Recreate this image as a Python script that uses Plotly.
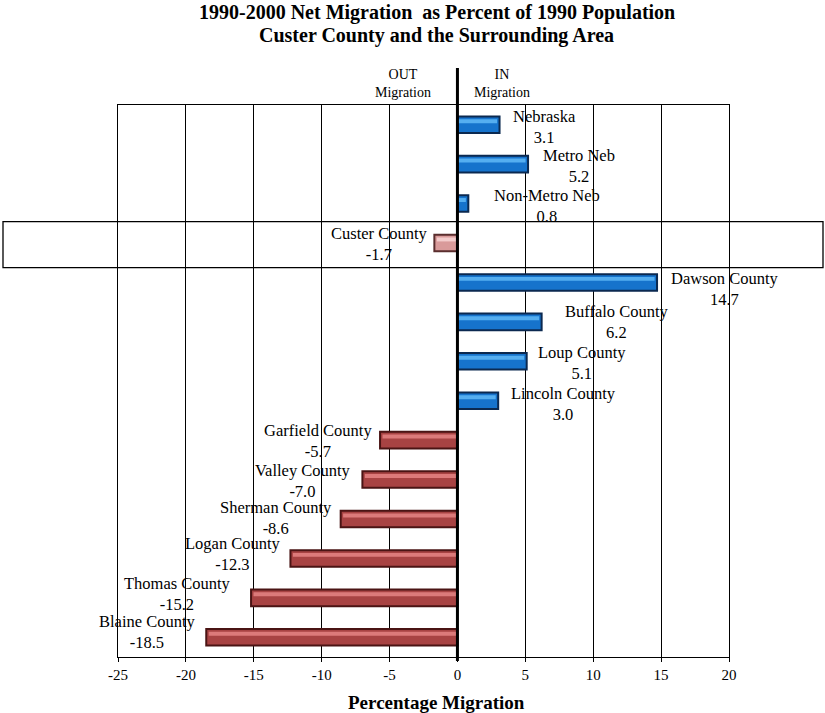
import plotly.graph_objects as go

# ---------------- data ----------------
regions = ["Nebraska", "Metro Neb", "Non-Metro Neb", "Custer County",
           "Dawson County", "Buffalo County", "Loup County", "Lincoln County",
           "Garfield County", "Valley County", "Sherman County", "Logan County",
           "Thomas County", "Blaine County"]
net_migration = [3.1, 5.2, 0.8, -1.7, 14.7, 6.2, 5.1, 3.0,
                 -5.7, -7.0, -8.6, -12.3, -15.2, -18.5]
highlight_region = "Custer County"
x_ticks = [-25, -20, -15, -10, -5, 0, 5, 10, 15, 20]
title_lines = ["1990-2000 Net Migration  as Percent of 1990 Population",
               "Custer County and the Surrounding Area"]
x_title = "Percentage Migration"

# ---------------- label nudges (pixels) ----------------
label_dx = [11, 13, 24, -4, 12, 21, 9, 11, -6, -9, -7, -7, -18, -8]
label_dy = [2, 2, 2, 1, 7, 0, 2, 3, 1, 1.5, -1, -4.5, -4, -5.5]

FONT = "Liberation Serif"

def colors_for(name, v):
    if name == highlight_region:
        return "#d99a9a", "#f3cccc", "#5a2e2e"
    if v >= 0:
        return "#1673cc", "#55aef0", "#0b2950"
    return "#a84343", "#dc7a7a", "#4a1414"

base_cols, hi_cols, line_cols = [], [], []
for n, v in zip(regions, net_migration):
    b, h, l = colors_for(n, v)
    base_cols.append(b)
    hi_cols.append(h)
    line_cols.append(l)

fig = go.Figure()
fig.add_trace(go.Bar(
    y=regions, x=net_migration, orientation="h",
    width=0.42, offset=-0.21,
    marker=dict(color=base_cols, line=dict(color=line_cols, width=2)),
    showlegend=False, hoverinfo="x+y",
))
# highlight stripe for a glossy look
hi_len = [v - (0.18 if v > 0 else -0.18) for v in net_migration]
fig.add_trace(go.Bar(
    y=regions, x=hi_len, orientation="h",
    width=0.1, offset=-0.14,
    marker=dict(color=hi_cols, line=dict(width=0)),
    showlegend=False, hoverinfo="skip",
))

annotations = []
for n, v, dx, dy in zip(regions, net_migration, label_dx, label_dy):
    annotations.append(dict(
        x=v, y=n, xref="x", yref="y",
        text=f"{n}<br>{v:.1f}", showarrow=False, align="center",
        xanchor="left" if v >= 0 else "right", yanchor="middle",
        xshift=dx, yshift=-dy,
        font=dict(family=FONT, size=16.5, color="black"),
    ))

# plot area: x 118..729, y 105..657 (height 552)
def py(px):
    return (657 - px) / 552.0

# title (two separate lines for tight spacing)
for txt, yy in zip(title_lines, [13, 35]):
    annotations.append(dict(
        x=0.522, y=py(yy), xref="paper", yref="paper", xanchor="center", yanchor="middle",
        text=f"<b>{txt}</b>", showarrow=False,
        font=dict(family=FONT, size=20, color="black"),
    ))
# axis title
annotations.append(dict(
    x=0.522, y=py(702), xref="paper", yref="paper", xanchor="center", yanchor="middle",
    text=f"<b>{x_title}</b>", showarrow=False,
    font=dict(family=FONT, size=19, color="black"),
))
# OUT / IN
annotations.append(dict(
    x=-4.0, y=py(83.5), xref="x", yref="paper", xanchor="center", yanchor="middle",
    text="OUT<br>Migration", showarrow=False, align="center",
    font=dict(family=FONT, size=14, color="black"),
))
annotations.append(dict(
    x=3.3, y=py(83.5), xref="x", yref="paper", xanchor="center", yanchor="middle",
    text="IN<br>Migration", showarrow=False, align="center",
    font=dict(family=FONT, size=14, color="black"),
))

shapes = [
    # highlight box around Custer County row (extends beyond plot)
    dict(type="rect", xref="paper", yref="paper",
         x0=(3 - 118) / 611.0, x1=(823 - 118) / 611.0, y0=py(267.7), y1=py(221.7),
         line=dict(color="black", width=1.3), fillcolor="rgba(0,0,0,0)", layer="above"),
    # thick zero line extending above the plot
    dict(type="line", xref="x", yref="paper", x0=0, x1=0, y0=py(661), y1=py(68),
         line=dict(color="black", width=3), layer="above"),
]

fig.update_layout(
    width=825, height=713,
    margin=dict(l=118, r=96, t=105, b=56, pad=0),
    paper_bgcolor="white", plot_bgcolor="white",
    barmode="overlay",
    annotations=annotations, shapes=shapes,
    font=dict(family=FONT, color="black"),
    xaxis=dict(range=[-25, 20], tickvals=x_ticks, ticktext=[str(t) for t in x_ticks],
               showgrid=True, gridcolor="black", gridwidth=1,
               zeroline=False, showline=True, linecolor="black", linewidth=1.3,
               mirror=True, ticks="outside", ticklen=4, tickcolor="black",
               tickfont=dict(family=FONT, size=15, color="black"),
               fixedrange=True),
    yaxis=dict(showticklabels=False, showgrid=False,
               zeroline=False, showline=True, linecolor="black", linewidth=1.3,
               mirror=True, ticks="", autorange=False, range=[13.5, -0.5],
               categoryorder="array", categoryarray=regions, fixedrange=True),
)

fig.write_html("out.html", config={"displayModeBar": False},
               post_script="document.body.style.margin='0';document.body.style.padding='0';")
